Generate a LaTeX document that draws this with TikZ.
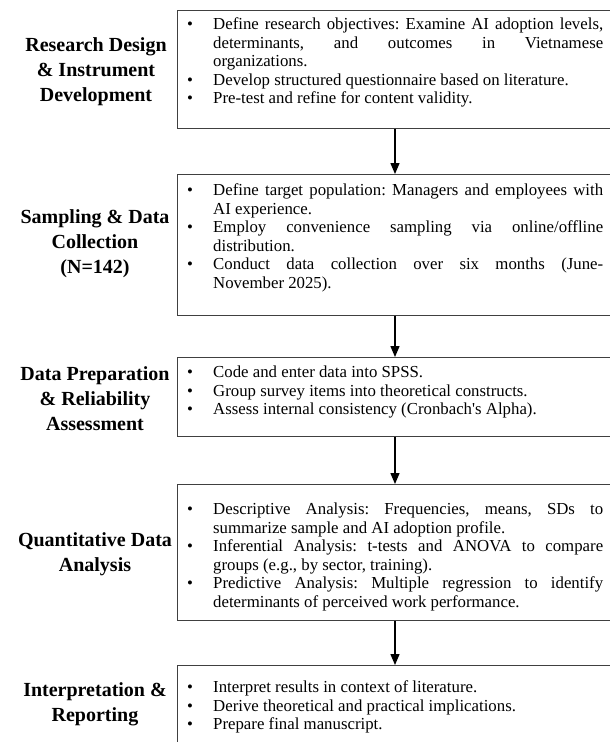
\documentclass[tikz,border=0pt]{standalone}
\usepackage{fontspec}
\setmainfont{Liberation Serif}
\usetikzlibrary{arrows.meta}
\newcommand{\bitem}[1]{\par\noindent\hangindent=26pt\hangafter=1\makebox[26pt][l]{\textbullet}#1\par}
\tikzset{
  stepbox/.style={draw=black!75, line width=0.9pt, anchor=north west, minimum width=436pt, inner sep=0pt},
  steptext/.style={anchor=north west, inner sep=0pt, text width=416pt, align=justify,
    font=\fontsize{16.8}{18.5}\selectfont\frenchspacing},
  steplabel/.style={align=center, font=\fontsize{20}{25}\selectfont\bfseries, inner sep=0pt},
  flow/.style={line width=1.3pt, -{Triangle[length=11pt,width=9pt]}}
}
\begin{document}
\begin{tikzpicture}[x=1pt,y=-1pt]
\useasboundingbox (0,0) rectangle (610,742);
\clip (0,0) rectangle (610,742);
\coordinate (ax) at (395,0);
\node[stepbox, minimum height=118pt] (b1) at (177,10) {};
\node[stepbox, minimum height=141pt] (b2) at (177,174) {};
\node[stepbox, minimum height=79pt] (b3) at (177,357) {};
\node[stepbox, minimum height=136pt] (b4) at (177,484) {};
\node[stepbox, minimum height=90pt] (b5) at (177,665) {};
\node[steptext] (t1) at ([shift={(10,1)}]b1.north west) {%
\bitem{Define research objectives: Examine AI adoption levels,\linebreak determinants, and outcomes in Vietnamese\linebreak organizations.}
\bitem{Develop structured questionnaire based on literature.}
\bitem{Pre-test and refine for content validity.}};
\node[steptext] (t2) at ([shift={(10,3)}]b2.north west) {%
\bitem{Define target population: Managers and employees with\linebreak AI experience.}
\bitem{Employ convenience sampling via online/offline\linebreak distribution.}
\bitem{Conduct data collection over six months (June-\linebreak November 2025).}};
\node[steptext] (t3) at ([shift={(10,2)}]b3.north west) {%
\bitem{Code and enter data into SPSS.}
\bitem{Group survey items into theoretical constructs.}
\bitem{Assess internal consistency (Cronbach\textquotesingle s Alpha).}};
\node[steptext] (t4) at ([shift={(10,12)}]b4.north west) {%
\bitem{Descriptive Analysis: Frequencies, means, SDs to\linebreak summarize sample and AI adoption profile.}
\bitem{Inferential Analysis: t-tests and ANOVA to compare\linebreak groups (e.g., by sector, training).}
\bitem{Predictive Analysis: Multiple regression to identify\linebreak determinants of perceived work performance.}};
\node[steptext] (t5) at ([shift={(10,9)}]b5.north west) {%
\bitem{Interpret results in context of literature.}
\bitem{Derive theoretical and practical implications.}
\bitem{Prepare final manuscript.}};
\node[steplabel] (l1) at (96,72) {Research Design\\\& Instrument\\Development};
\node[steplabel] (l2) at (95,244) {Sampling \& Data\\Collection\\(N=142)};
\node[steplabel] (l3) at (95,399) {Data Preparation\\\& Reliability\\Assessment};
\node[steplabel] (l4) at (95,554) {Quantitative Data\\Analysis};
\node[steplabel] (l5) at (95,704) {Interpretation \&\\Reporting};
\draw[flow] (b1.south -| ax) -- (b2.north -| ax);
\draw[flow] (b2.south -| ax) -- (b3.north -| ax);
\draw[flow] (b3.south -| ax) -- (b4.north -| ax);
\draw[flow] (b4.south -| ax) -- (b5.north -| ax);
\end{tikzpicture}
\end{document}
